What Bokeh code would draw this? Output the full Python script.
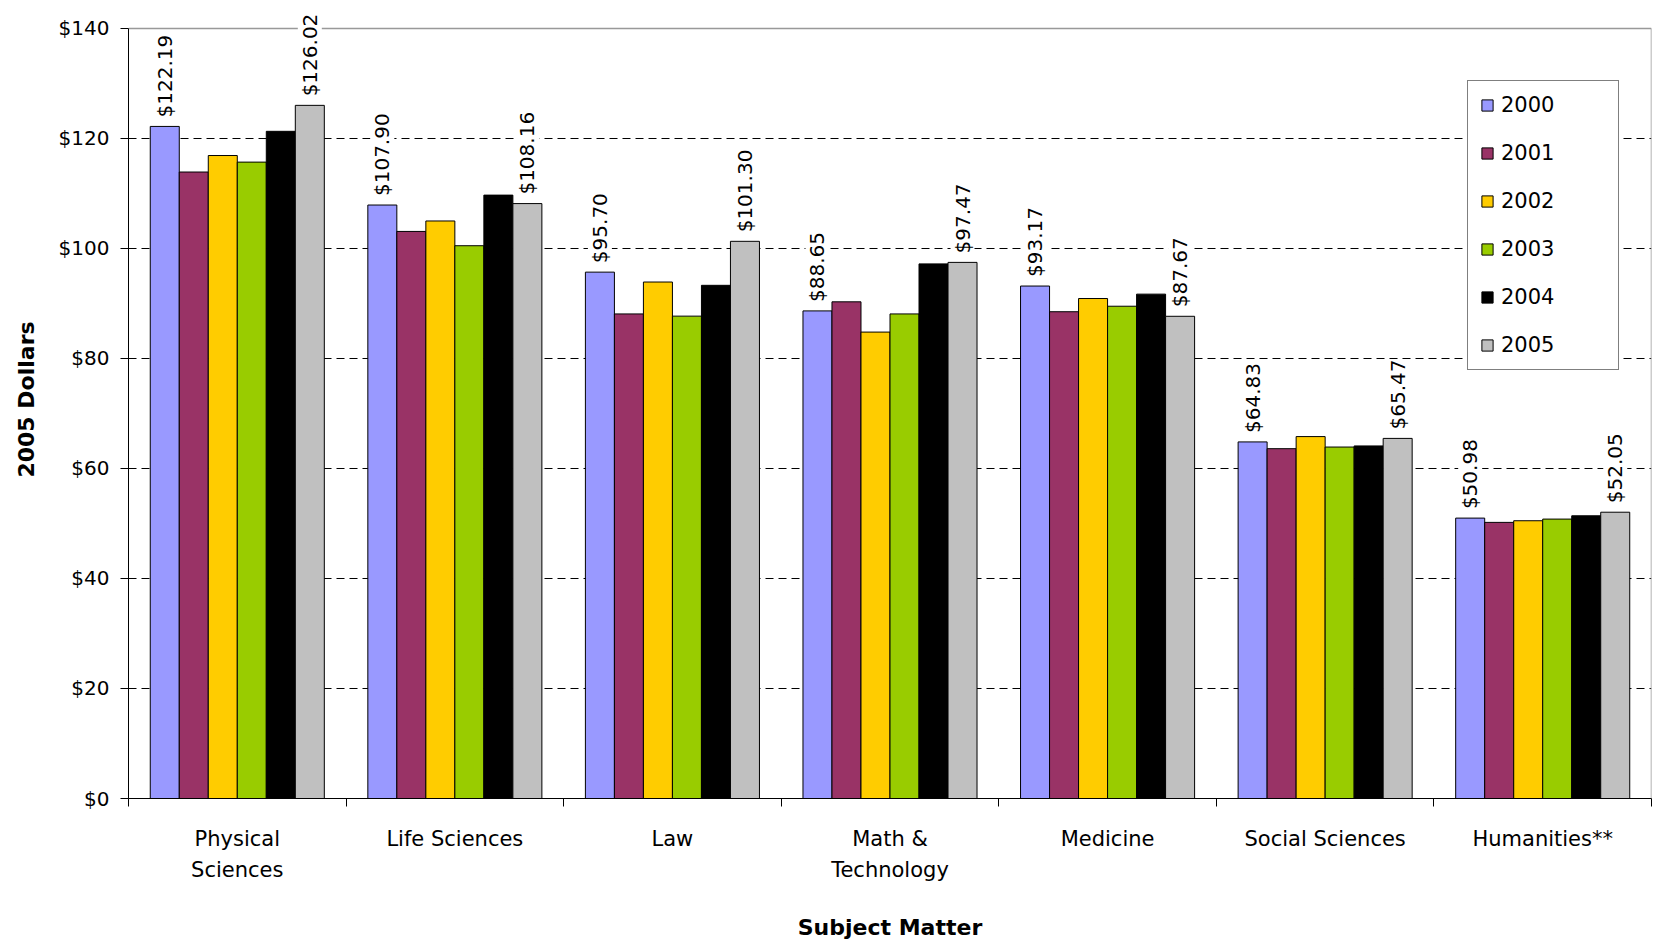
import math
from bokeh.plotting import figure
from bokeh.models import (ColumnDataSource, FixedTicker, Legend, LegendItem,
                          LabelSet, Range1d)
from bokeh.core.properties import value
from bokeh.embed import file_html
from bokeh.resources import INLINE

# ---------------- data ----------------
categories = ["Physical\nSciences", "Life Sciences", "Law", "Math &\nTechnology",
              "Medicine", "Social Sciences", "Humanities**"]
years = ["2000", "2001", "2002", "2003", "2004", "2005"]
y2000 = [122.19, 107.90, 95.70, 88.65, 93.17, 64.83, 50.98]
y2001 = [113.9, 103.1, 88.1, 90.3, 88.5, 63.6, 50.2]
y2002 = [116.9, 105.0, 93.9, 84.8, 90.9, 65.8, 50.5]
y2003 = [115.7, 100.5, 87.7, 88.1, 89.5, 63.9, 50.8]
y2004 = [121.3, 109.7, 93.3, 97.2, 91.7, 64.1, 51.4]
y2005 = [126.02, 108.16, 101.30, 97.47, 87.67, 65.47, 52.05]
y_ticks = [0, 20, 40, 60, 80, 100, 120, 140]
y_tick_labels = ["$0", "$20", "$40", "$60", "$80", "$100", "$120", "$140"]
labelled_years = ["2000", "2005"]

series = [y2000, y2001, y2002, y2003, y2004, y2005]
colors = ["#9999FF", "#993366", "#FFCC00", "#99CC00", "#000000", "#C0C0C0"]

FONT = "DejaVu Sans"
n_cat = len(categories)
n_ser = len(series)
group_frac = 0.8
bar_w = group_frac / n_ser

# layout (pixels)
W, H = 1652, 942
TOP_GAP = 28          # space above the $140 line (room for data labels)
BOTTOM = 143
frame_h = H - BOTTOM
y_max = y_ticks[-1]
y_end = y_max * frame_h / (frame_h - TOP_GAP)

p = figure(width=W, height=H, output_backend="svg", toolbar_location=None,
           x_range=Range1d(0, n_cat), y_range=Range1d(y_ticks[0], y_end),
           min_border_left=128, min_border_right=1, min_border_top=0,
           min_border_bottom=BOTTOM)
p.background_fill_color = "white"
p.border_fill_color = "white"
p.outline_line_color = None

# grid
p.xgrid.visible = False
p.ygrid.ticker = FixedTicker(ticks=y_ticks[1:-1])
p.ygrid.grid_line_color = "black"
p.ygrid.grid_line_dash = "8 5"
p.ygrid.grid_line_width = 1

# plot-area border (top and right), drawn at the top of the value axis
p.segment(x0=[0, n_cat], y0=[y_max, 0], x1=[n_cat, n_cat], y1=[y_max, y_max],
          line_color="#999999", line_width=1.5)

items = []
for j, (yr, vals, col) in enumerate(zip(years, series, colors)):
    xs = [i + 0.5 + (j - (n_ser - 1) / 2) * bar_w for i in range(n_cat)]
    src = ColumnDataSource(dict(x=xs, top=vals,
                                label=["$%.2f" % v for v in vals]))
    r = p.vbar(x="x", top="top", bottom=0, width=bar_w, source=src,
               fill_color=col, line_color="black", line_width=1)
    items.append(LegendItem(label=yr, renderers=[r]))
    if yr in labelled_years:
        ls = LabelSet(x="x", y="top", text="label", source=src,
                      angle=math.pi / 2, text_align="left",
                      text_baseline="middle", y_offset=9,
                      text_font=value(FONT), text_font_size=value("20px"),
                      text_color="black", background_fill_color="white")
        p.add_layout(ls)

centers = [i + 0.5 for i in range(n_cat)]
bounds = [float(i) for i in range(n_cat + 1)]

# x axis
xa = p.xaxis[0]
xa.ticker = FixedTicker(ticks=centers, minor_ticks=bounds)
xa.major_label_overrides = {c: lab for c, lab in zip(centers, categories)}
xa.major_tick_out = 0
xa.major_tick_in = 0
xa.minor_tick_out = 8
xa.minor_tick_in = 0
xa.minor_tick_line_color = "black"
xa.axis_line_color = "black"
xa.major_label_standoff = 20
xa.major_label_text_font = FONT
xa.major_label_text_font_size = "21px"
xa.major_label_text_color = "black"
xa.major_label_text_line_height = 1.3
xa.axis_label = "Subject Matter"
xa.axis_label_text_font = FONT
xa.axis_label_text_font_style = "bold"
xa.axis_label_text_font_size = "22px"
xa.axis_label_text_color = "black"
xa.axis_label_standoff = 30

# y axis
ya = p.yaxis[0]
ya.bounds = (y_ticks[0], y_max)
ya.ticker = FixedTicker(ticks=y_ticks)
ya.major_label_overrides = {t: lab for t, lab in zip(y_ticks, y_tick_labels)}
ya.major_tick_out = 8
ya.major_tick_in = 0
ya.minor_tick_out = 0
ya.minor_tick_in = 0
ya.major_tick_line_color = "black"
ya.axis_line_color = "black"
ya.major_label_standoff = 11
ya.major_label_text_font = FONT
ya.major_label_text_font_size = "20px"
ya.major_label_text_color = "black"
ya.axis_label = "2005 Dollars"
ya.axis_label_text_font = FONT
ya.axis_label_text_font_style = "bold"
ya.axis_label_text_font_size = "22px"
ya.axis_label_text_color = "black"
ya.axis_label_standoff = 17

legend = Legend(items=items, location=(1339, 428), orientation="vertical",
                border_line_color="black", border_line_width=1.5,
                background_fill_color="white", background_fill_alpha=1,
                label_text_font=FONT, label_text_font_size="21px",
                label_text_color="black", glyph_width=14, glyph_height=14,
                label_standoff=7, spacing=24, padding=12, label_height=21,
                label_width=105, margin=0)
p.add_layout(legend)

open("out.html", "w").write(file_html(p, INLINE))
